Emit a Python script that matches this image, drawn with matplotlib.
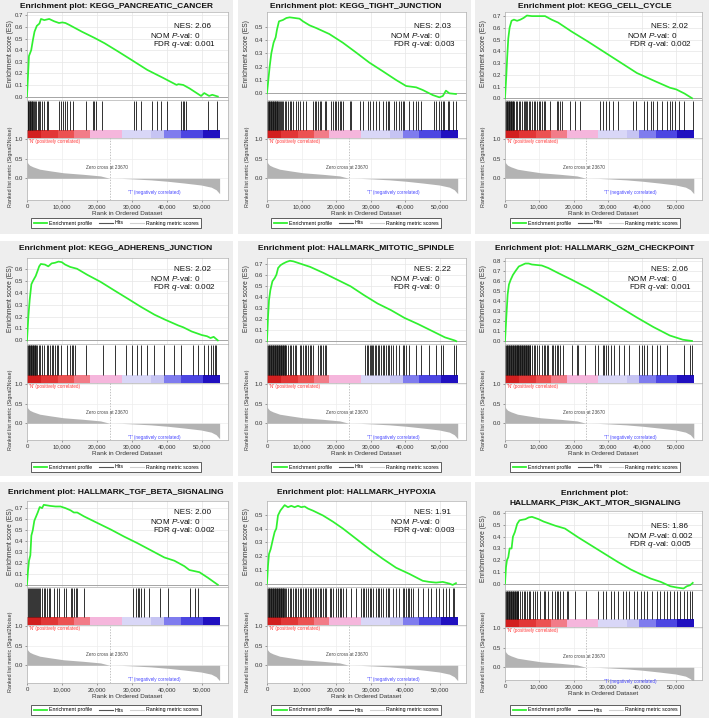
import matplotlib
matplotlib.use('Agg')
import matplotlib.pyplot as plt
from matplotlib.lines import Line2D
from matplotlib.patches import Rectangle
from matplotlib.ticker import FuncFormatter

plt.rcParams['font.family'] = ['Liberation Sans', 'DejaVu Sans']
plt.rcParams['mathtext.fontset'] = 'custom'
plt.rcParams['mathtext.rm'] = 'Liberation Sans'
plt.rcParams['mathtext.it'] = 'Liberation Sans:italic'

W, H = 709, 718

# ---------------- data ----------------
titles = ["Enrichment plot: KEGG_PANCREATIC_CANCER",
          "Enrichment plot: KEGG_TIGHT_JUNCTION",
          "Enrichment plot: KEGG_CELL_CYCLE",
          "Enrichment plot: KEGG_ADHERENS_JUNCTION",
          "Enrichment plot: HALLMARK_MITOTIC_SPINDLE",
          "Enrichment plot: HALLMARK_G2M_CHECKPOINT",
          "Enrichment plot: HALLMARK_TGF_BETA_SIGNALING",
          "Enrichment plot: HALLMARK_HYPOXIA",
          "Enrichment plot:\nHALLMARK_PI3K_AKT_MTOR_SIGNALING"]
nes_values = ["2.06", "2.03", "2.02", "2.02", "2.22", "2.06", "2.00", "1.91", "1.86"]
nom_p_values = ["0", "0", "0", "0", "0", "0", "0", "0", "0.002"]
fdr_q_values = ["0.001", "0.003", "0.002", "0.002", "0", "0.001", "0.002", "0.003", "0.005"]
es_max_tick = [0.7, 0.5, 0.7, 0.6, 0.7, 0.8, 0.7, 0.5, 0.6]

zero_cross = 23670
x_ticks = [0, 10000, 20000, 30000, 40000, 50000]

es_x_1 = [0, 560, 1200, 1700, 2150, 2800, 3550, 4000, 4950, 6350, 7750, 9150, 10100, 11000, 12000, 15700, 19400, 22200, 26000, 29700, 34400, 39000, 42800, 43300, 44700, 46500, 49800, 50700, 52100, 53000, 54600]
es_y_1 = [0, 0.35, 0.40, 0.49, 0.56, 0.61, 0.63, 0.67, 0.66, 0.67, 0.65, 0.635, 0.64, 0.635, 0.62, 0.56, 0.505, 0.46, 0.39, 0.32, 0.23, 0.16, 0.10, 0.107, 0.10, 0.07, 0.005, 0.03, 0.005, 0.015, 0.0]
es_x_2 = [0, 770, 1250, 1900, 2500, 2900, 3460, 4600, 5600, 6540, 8000, 9400, 10400, 12300, 14200, 18000, 21900, 25800, 29600, 33500, 37300, 40200, 43100, 45000, 47900, 49800, 50800, 51700, 52700, 54600]
es_y_2 = [0, 0.20, 0.30, 0.38, 0.42, 0.48, 0.54, 0.55, 0.565, 0.57, 0.565, 0.56, 0.54, 0.51, 0.49, 0.445, 0.38, 0.305, 0.23, 0.165, 0.10, 0.055, 0.045, 0.025, -0.013, -0.03, -0.02, 0.02, 0.0, -0.005]
es_x_3 = [0, 380, 670, 960, 1340, 1900, 2600, 3540, 4500, 5460, 6400, 7850, 9800, 11700, 13600, 15500, 19350, 24100, 28900, 33700, 38500, 42300, 44200, 48100, 50000, 52400, 54600]
es_y_3 = [0, 0.19, 0.365, 0.51, 0.60, 0.66, 0.67, 0.66, 0.67, 0.685, 0.705, 0.70, 0.70, 0.70, 0.67, 0.645, 0.57, 0.485, 0.395, 0.305, 0.215, 0.165, 0.14, 0.09, 0.075, 0.04, 0.0]
es_x_4 = [0, 390, 770, 1250, 1740, 2500, 3000, 3480, 3960, 5120, 6090, 7050, 8020, 9000, 9950, 10900, 12370, 14300, 17200, 21060, 24900, 28800, 32650, 36500, 39400, 41350, 43300, 44700, 47100, 50000, 51500, 52500, 53400, 54600]
es_y_4 = [0, 0.2, 0.34, 0.47, 0.5, 0.54, 0.58, 0.62, 0.64, 0.635, 0.62, 0.645, 0.65, 0.66, 0.655, 0.635, 0.615, 0.60, 0.55, 0.49, 0.42, 0.35, 0.28, 0.215, 0.175, 0.15, 0.125, 0.11, 0.075, 0.045, 0.035, 0.02, 0.03, 0.0]
es_x_5 = [0, 290, 580, 970, 1560, 2240, 2730, 3210, 3900, 4670, 5650, 6620, 7600, 9060, 10500, 12460, 16360, 20250, 24150, 28040, 31940, 35830, 39730, 43620, 47520, 51400, 54330, 54700]
es_y_5 = [0, 0.215, 0.37, 0.46, 0.54, 0.57, 0.60, 0.66, 0.685, 0.70, 0.715, 0.725, 0.72, 0.705, 0.69, 0.67, 0.615, 0.555, 0.495, 0.415, 0.34, 0.28, 0.21, 0.155, 0.095, 0.035, 0.006, 0.0]
es_x_6 = [0, 380, 770, 1150, 1630, 2300, 3070, 4020, 4980, 5940, 6900, 7850, 9300, 10730, 12640, 15500, 19350, 24140, 28930, 33700, 38500, 43300, 48100, 51900, 54600]
es_y_6 = [0, 0.235, 0.465, 0.565, 0.61, 0.66, 0.70, 0.745, 0.76, 0.775, 0.775, 0.765, 0.76, 0.755, 0.73, 0.68, 0.615, 0.53, 0.435, 0.335, 0.235, 0.14, 0.055, 0.013, 0.0]
es_x_7 = [0, 290, 575, 960, 1250, 1630, 2100, 2680, 3070, 3640, 4310, 4790, 5750, 6700, 8140, 9580, 11000, 12450, 13400, 14370, 16280, 20100, 23950, 27780, 31600, 35440, 39270, 42150, 45020, 46460, 47900, 49330, 51720, 54600]
es_y_7 = [0, 0.13, 0.22, 0.27, 0.45, 0.495, 0.585, 0.63, 0.66, 0.71, 0.70, 0.73, 0.725, 0.72, 0.715, 0.715, 0.70, 0.68, 0.66, 0.66, 0.625, 0.565, 0.505, 0.44, 0.38, 0.315, 0.25, 0.22, 0.17, 0.135, 0.125, 0.115, 0.065, 0.0]
es_x_8 = [0, 290, 580, 1060, 1730, 2210, 2690, 3170, 3850, 4620, 5100, 6060, 7020, 7980, 8940, 9900, 10870, 11830, 13270, 16150, 19040, 21920, 25770, 29600, 33460, 37300, 41150, 45000, 46900, 48850, 50770, 52690, 53650, 54600]
es_y_8 = [0, 0.13, 0.215, 0.25, 0.325, 0.375, 0.40, 0.495, 0.53, 0.555, 0.57, 0.555, 0.565, 0.555, 0.565, 0.555, 0.56, 0.545, 0.53, 0.495, 0.45, 0.40, 0.325, 0.25, 0.18, 0.115, 0.07, 0.02, 0.012, 0.007, 0.012, 0.0, -0.01, 0.003]
es_x_9 = [0, 290, 580, 960, 1350, 1920, 2310, 2880, 3560, 4230, 5000, 5960, 6920, 7880, 8850, 9800, 11250, 12700, 14600, 17500, 21350, 25200, 29040, 32900, 36730, 39600, 42500, 45400, 48270, 50200, 52100, 53080, 54040, 54800]
es_y_9 = [0, 0.14, 0.2, 0.225, 0.30, 0.30, 0.40, 0.44, 0.51, 0.54, 0.545, 0.55, 0.565, 0.57, 0.56, 0.55, 0.53, 0.515, 0.495, 0.47, 0.395, 0.325, 0.255, 0.185, 0.12, 0.08, 0.043, 0.015, -0.023, -0.034, -0.042, -0.023, -0.014, 0.006]

hits_1 = [190, 380, 580, 770, 960, 1150, 1350, 1540, 1730, 2020, 2400, 2690, 3170, 3460, 3850, 4420, 4810, 5580, 6060, 9230, 9620, 10380, 10870, 11350, 12300, 13080, 16900, 18850, 19230, 19800, 21440, 30580, 31060, 32500, 35870, 37310, 38270, 40190, 44040, 44520, 45000, 45480, 51730, 54420]
hits_2 = [100, 290, 480, 670, 870, 1060, 1250, 1440, 1630, 1830, 2020, 2210, 2400, 2600, 2790, 2980, 3170, 3370, 3650, 3940, 4230, 4520, 5100, 5580, 6060, 6540, 7020, 7500, 8460, 8940, 9420, 10380, 11350, 13270, 13750, 14230, 14710, 15190, 15670, 16630, 17120, 18560, 19040, 19520, 20000, 20480, 20960, 21440, 21920, 23850, 24330, 26730, 27690, 29130, 29620, 30580, 31540, 32500, 33460, 34420, 34900, 35380, 36830, 37310, 38270, 38750, 39230, 39710, 41150, 42120, 43080, 43560, 44520, 48370, 48850, 49810, 50290, 50770, 51250, 52210, 52690, 53650, 54620]
hits_3 = [100, 290, 480, 670, 870, 1060, 1250, 1440, 1630, 1830, 2020, 2210, 2400, 2600, 3080, 3560, 4040, 4520, 5000, 5480, 5770, 6150, 6440, 6920, 7400, 7880, 8370, 8850, 9330, 9810, 10290, 10770, 11250, 11730, 13170, 15100, 15580, 16060, 16540, 18940, 20380, 21830, 27600, 28560, 29520, 30480, 31440, 32880, 37500, 38170, 40580, 41540, 42500, 43270, 44420, 45870, 47310, 48270, 48750, 49710, 50670, 52120, 54810]
hits_4 = [100, 290, 480, 670, 870, 1060, 1250, 1440, 1630, 1830, 2020, 2210, 2400, 2600, 2980, 3460, 3850, 4330, 4810, 5580, 6060, 6540, 7020, 7500, 7980, 8460, 8940, 9710, 11350, 12310, 12790, 13270, 13750, 16920, 21730, 25290, 28460, 30100, 31540, 32500, 34420, 36350, 39230, 42120, 44040, 47400, 48850, 50770, 51730, 52690, 53170, 53650, 54130]
hits_5 = [100, 290, 480, 670, 870, 1060, 1250, 1440, 1630, 1830, 2020, 2210, 2400, 2600, 2790, 2980, 3170, 3370, 3560, 3750, 3940, 4140, 4330, 4520, 4710, 4900, 5100, 5290, 5480, 6060, 6540, 7020, 7500, 7980, 8460, 9420, 9900, 10380, 10870, 11350, 11830, 12310, 12790, 13270, 14710, 15190, 15670, 16150, 16630, 17120, 28460, 28850, 29230, 29620, 30000, 30380, 30770, 31150, 31540, 32020, 32500, 32980, 33460, 33940, 34420, 34900, 35380, 35870, 36350, 37310, 38270, 39230, 39710, 40190, 41150, 43080, 44520, 46920, 48850, 50290, 50770, 54130, 54620]
hits_6 = [100, 290, 480, 670, 870, 1060, 1250, 1440, 1630, 1830, 2020, 2210, 2400, 2600, 2790, 2980, 3170, 3370, 3560, 3750, 3940, 4140, 4330, 4520, 4710, 4900, 5100, 5290, 5480, 5670, 5870, 6060, 6250, 6440, 6630, 6830, 7020, 7210, 7400, 7880, 8370, 8850, 9330, 9810, 10770, 11250, 11730, 12210, 12690, 13650, 14130, 14620, 15100, 15580, 16060, 17020, 19420, 20870, 21350, 23270, 26150, 27120, 28560, 29040, 29520, 30000, 30960, 31920, 33370, 34810, 36250, 39130, 40100, 40580, 41540, 42980, 44420, 45380, 47310, 52120, 54040, 54520]
hits_7 = [290, 580, 860, 1150, 1440, 1730, 2020, 2300, 2590, 2880, 3170, 3460, 3840, 4320, 4800, 5280, 5760, 6240, 6720, 7680, 8640, 9120, 10560, 11040, 12480, 12960, 13440, 13920, 14400, 16320, 30240, 31200, 31680, 32160, 32640, 33600, 35040, 37920, 40320, 46560, 48000, 48960]
hits_8 = [100, 290, 480, 670, 870, 1060, 1250, 1440, 1630, 1830, 2020, 2210, 2400, 2600, 2790, 2980, 3170, 3370, 3560, 3750, 3940, 4140, 4330, 4520, 4710, 4900, 5100, 5580, 6060, 6540, 7020, 7500, 7980, 8460, 8940, 9420, 9900, 10380, 10870, 11350, 11830, 12310, 12790, 13270, 13750, 14230, 14710, 15190, 15670, 16150, 16630, 17120, 18080, 18560, 19040, 20000, 20480, 20960, 21440, 21920, 22880, 24330, 25770, 27210, 27690, 28170, 28650, 29130, 29620, 30100, 30580, 31540, 32020, 32500, 32980, 33460, 34420, 34900, 35380, 36350, 37310, 38270, 39230, 39710, 40190, 40670, 41150, 41630, 42120, 43560, 45000, 46440, 47400, 48850, 49810, 50770, 51730, 52690, 53650, 54130]
hits_9 = [100, 290, 480, 670, 870, 1060, 1250, 1440, 1630, 1830, 2020, 2210, 2400, 2600, 2790, 2980, 3170, 3370, 3560, 3750, 3940, 4520, 5000, 5480, 5960, 6440, 6920, 7400, 8080, 8850, 9330, 10290, 11250, 11730, 12690, 13650, 14620, 15100, 15580, 16060, 17020, 17980, 18460, 20380, 23750, 27120, 28560, 29520, 30960, 31920, 32880, 34330, 35290, 36250, 37690, 38650, 39610, 40580, 41540, 42980, 44420, 45380, 46350, 47310, 48270, 49230, 50190, 51150, 52120, 53080, 54040, 54520]

es_x = [es_x_1, es_x_2, es_x_3, es_x_4, es_x_5, es_x_6, es_x_7, es_x_8, es_x_9]
es_y = [es_y_1, es_y_2, es_y_3, es_y_4, es_y_5, es_y_6, es_y_7, es_y_8, es_y_9]
hits = [hits_1, hits_2, hits_3, hits_4, hits_5, hits_6, hits_7, hits_8, hits_9]

# ranked list metric (shared ranking)
metric_x = [0, 290, 770, 1730, 3650, 6540, 10400, 16150, 21000, 23670, 27200, 30600, 35400, 40200, 45000, 49800, 52700, 54100, 54800, 55100]
metric_y = [0.42, 0.375, 0.33, 0.29, 0.23, 0.19, 0.14, 0.10, 0.06, 0.0, -0.003, -0.017, -0.04, -0.075, -0.12, -0.17, -0.225, -0.29, -0.36, -0.39]

# phenotype colour bar blocks
cbar_edges = [0, 4000, 9000, 13500, 18000, 27200, 35500, 39200, 44000, 50300, 55100]
cbar_colors = ['#d21f1f', '#e23636', '#ec5252', '#f27c88', '#f5b6dc',
               '#d9d7f7', '#c6c4f3', '#7f7cee', '#4c46e2', '#2010c0']

# ---------------- layout (pixels) ----------------
col_x = [0, 236, 472]
row_y = [0, 240, 480]
col_left = [27, 31, 33]
col_right = [228, 230, 230]
col_center = [116, 120, 123]
bg_x = [(0, 233), (238, 471), (475, 709)]
bg_y = [(0, 234), (241, 476), (482, 718)]
row_lay = [
    dict(title_y=6, es=(12, 100), hits=(100, 138), met=(138, 200), stats=(26.5, 35.5, 44.5), leg=223),
    dict(title_y=8, es=(18, 104), hits=(104, 143), met=(143, 200), stats=(29.5, 38.5, 47.5), leg=227),
    dict(title_y=12, es=(21, 107), hits=(107, 145), met=(145, 203), stats=(33, 42, 51), leg=230),
]
pi3k_lay = dict(title_y=18, es=(31, 110), hits=(110, 147), met=(147, 200), stats=(46, 55, 64), leg=230)
stats_x = [(174, 150, 153), (178, 154, 157), (179, 155, 157)]

es_ylims = [(-0.03, 0.73), (-0.05, 0.61), (-0.015, 0.735), (-0.03, 0.69), (-0.025, 0.75),
            (-0.03, 0.83), (-0.02, 0.765), (-0.025, 0.60), (-0.055, 0.62)]
XMAX = 57500
GREEN = '#30f030'


def rect(x0, y0, x1, y1):
    return [x0 / W, 1 - y1 / H, (x1 - x0) / W, (y1 - y0) / H]


fig = plt.figure(figsize=(W / 100, H / 100), dpi=100)
fig.patch.set_facecolor('white')

tick_fs = 4.3
for i in range(9):
    r, c = divmod(i, 3)
    cx, ry = col_x[c], row_y[r]
    lay = pi3k_lay if i == 8 else row_lay[r]
    left, right = cx + col_left[c], cx + col_right[c]

    fig.patches.append(Rectangle((bg_x[c][0] / W, 1 - bg_y[r][1] / H),
                                 (bg_x[c][1] - bg_x[c][0]) / W, (bg_y[r][1] - bg_y[r][0]) / H,
                                 transform=fig.transFigure, facecolor='#eeeeee',
                                 edgecolor='none', zorder=-10))

    # title
    fig.text((cx + col_center[c]) / W, 1 - (ry + lay['title_y']) / H, titles[i],
             ha='center', va='center', fontsize=6.0, fontweight='bold', color='#111111',
             linespacing=1.5)

    # ---- ES axes
    ax = fig.add_axes(rect(left, ry + lay['es'][0], right, ry + lay['es'][1]))
    ax.plot(es_x[i], es_y[i], color=GREEN, lw=1.25, zorder=3)
    ax.axhline(0, color='#9a9a9a', lw=0.6, zorder=2)
    ax.set_xlim(0, XMAX)
    ax.set_ylim(*es_ylims[i])
    nt = int(round(es_max_tick[i] * 10)) + 1
    yt = [k / 10 for k in range(nt)]
    ax.set_yticks(yt)
    ax.set_yticklabels([f"{v:.1f}" for v in yt])
    ax.set_xticks(x_ticks)
    ax.set_xticklabels([])
    ax.grid(True, color='#e6e6e6', lw=0.5)
    ax.set_axisbelow(True)
    ax.tick_params(labelsize=tick_fs, length=1.5, width=0.4, colors='#555555', pad=1.5,
                   labelcolor='#333333')
    for s in ax.spines.values():
        s.set_color('#b0b0b0'); s.set_linewidth(0.5)

    fig.text((cx + 11) / W, 1 - (ry + (lay['es'][0] + lay['es'][1]) / 2 - 2) / H,
             'Enrichment score (ES)', rotation=90, ha='center', va='center',
             fontsize=4.8, color='#333333')

    # NES text
    sx = stats_x[c]
    lines = [f"NES: {nes_values[i]}", f"NOM $\\it{{P}}$-val: {nom_p_values[i]}",
             f"FDR $\\it{{q}}$-val: {fdr_q_values[i]}"]
    for k in range(3):
        fig.text((cx + sx[k]) / W, 1 - (ry + lay['stats'][k]) / H, lines[k],
                 ha='left', va='center', fontsize=5.9, color='#111111')

    # ---- hits + colour bar axes
    hax = fig.add_axes(rect(left, ry + lay['hits'][0], right, ry + lay['hits'][1]))
    hh = lay['hits'][1] - lay['hits'][0]
    cfrac = 8.0 / hh
    hax.set_xlim(0, XMAX)
    hax.set_ylim(0, 1)
    hax.vlines(hits[i], cfrac, 0.98, color='#111111', lw=0.6)
    for k in range(len(cbar_colors)):
        hax.add_patch(Rectangle((cbar_edges[k], 0), cbar_edges[k + 1] - cbar_edges[k], cfrac,
                                facecolor=cbar_colors[k], edgecolor='none'))
    hax.set_xticks([]); hax.set_yticks([])
    for s in hax.spines.values():
        s.set_color('#b0b0b0'); s.set_linewidth(0.5)

    # ---- ranked metric axes
    mtop, mbot = lay['met']
    max_ = fig.add_axes(rect(left, ry + mtop, right, ry + mbot))
    mh = mbot - mtop
    ytop = 1.02
    max_.set_ylim(ytop - mh / 39.5, ytop)
    max_.set_xlim(0, XMAX)
    max_.fill_between(metric_x, metric_y, 0, color='#b3b3b3', lw=0)
    max_.axvline(zero_cross, color='#aaaaaa', lw=0.5, ls=(0, (2, 2)))
    max_.set_yticks([0.0, 0.5, 1.0])
    max_.set_yticklabels(['0.0', '0.5', '1.0'])
    max_.set_xticks(x_ticks)
    max_.xaxis.set_major_formatter(FuncFormatter(lambda v, p: f"{int(v):,}"))
    max_.grid(True, color='#ededed', lw=0.5)
    max_.set_axisbelow(True)
    max_.tick_params(labelsize=tick_fs, length=1.5, width=0.4, colors='#555555', pad=1.5,
                     labelcolor='#333333')
    for s in max_.spines.values():
        s.set_color('#b0b0b0'); s.set_linewidth(0.5)
    max_.set_xlabel('Rank in Ordered Dataset', fontsize=4.6, color='#333333', labelpad=1.5)
    max_.text(600, 0.93, "'N' (positively correlated)", color='#ff3a3a', fontsize=3.3,
              ha='left', va='center')
    max_.text(23000, 0.28, 'Zero cross at 23670', color='#444444', fontsize=3.3,
              ha='center', va='center')
    max_.text(36500, -0.37, "'T' (negatively correlated)", color='#4848ff', fontsize=3.3,
              ha='center', va='center')
    fig.text((cx + 11) / W, 1 - (ry + (mtop + mbot) / 2 - 2) / H,
             'Ranked list metric (Signal2Noise)', rotation=90, ha='center', va='center',
             fontsize=3.9, color='#333333')

    # ---- legend
    handles = [Line2D([], [], color=GREEN, lw=1.3),
               Line2D([], [], color='#555555', lw=0.8),
               Line2D([], [], color='#d0d0d0', lw=0.8)]
    labels = ['Enrichment profile', 'Hits', 'Ranking metric scores']
    leg = fig.legend(handles, labels, loc='center', ncol=3,
                     bbox_to_anchor=((cx + col_center[c]) / W, 1 - (ry + lay['leg']) / H),
                     fontsize=3.8, frameon=True, fancybox=False, framealpha=1,
                     edgecolor='#444444', handlelength=2.6, handletextpad=0.4,
                     columnspacing=1.2, borderpad=0.45, borderaxespad=0)
    leg.get_frame().set_linewidth(0.6)

fig.savefig('out.png', dpi=100, facecolor='white')
